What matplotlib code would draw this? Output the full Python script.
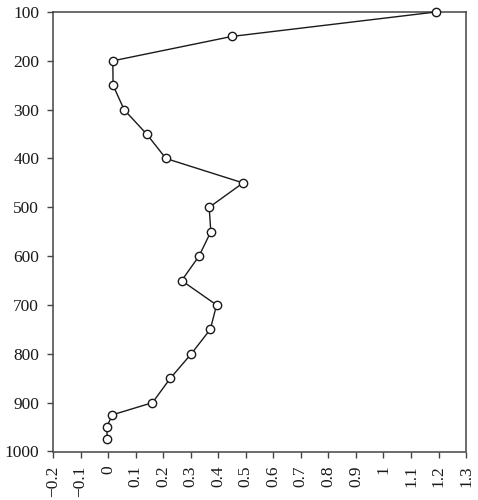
import matplotlib
matplotlib.use("Agg")
import matplotlib.pyplot as plt

depth = [100, 150, 200, 250, 300, 350, 400, 450, 500, 550, 600, 650,
         700, 750, 800, 850, 900, 925, 950, 975]
value = [1.19, 0.45, 0.017, 0.018, 0.058, 0.14, 0.21, 0.49, 0.367, 0.373,
         0.33, 0.267, 0.394, 0.371, 0.302, 0.226, 0.161, 0.015, -0.005, -0.003]

x_ticks = [-0.2, -0.1, 0, 0.1, 0.2, 0.3, 0.4, 0.5, 0.6, 0.7, 0.8, 0.9, 1, 1.1, 1.2, 1.3]
x_labels = ["\u22120.2", "\u22120.1", "0", "0.1", "0.2", "0.3", "0.4", "0.5", "0.6",
            "0.7", "0.8", "0.9", "1", "1.1", "1.2", "1.3"]
y_ticks = [100, 200, 300, 400, 500, 600, 700, 800, 900, 1000]

plt.rcParams["font.family"] = ["Liberation Serif", "DejaVu Serif"]

fig = plt.figure(figsize=(4.78, 5.0), dpi=100)
ax = fig.add_axes([0.111, 0.097, 0.864, 0.879])

ax.plot(value, depth, color="#1a1a1a", linewidth=1.0, marker="o",
        markersize=6, markerfacecolor="white", markeredgecolor="#1a1a1a",
        markeredgewidth=1.0, clip_on=False, zorder=3)

ax.set_xlim(-0.2, 1.3)
ax.set_ylim(1000, 100)
ax.set_xticks(x_ticks)
ax.set_xticklabels(x_labels, rotation=90)
ax.set_yticks(y_ticks)

ax.tick_params(axis="both", labelsize=12.5, length=4, width=1.0,
               color="#444444", labelcolor="#1a1a1a", direction="out")
ax.tick_params(axis="y", pad=6)
ax.tick_params(axis="x", pad=6)
for s in ax.spines.values():
    s.set_linewidth(1.1)
    s.set_color("#444444")

fig.savefig("out.png", dpi=100)
